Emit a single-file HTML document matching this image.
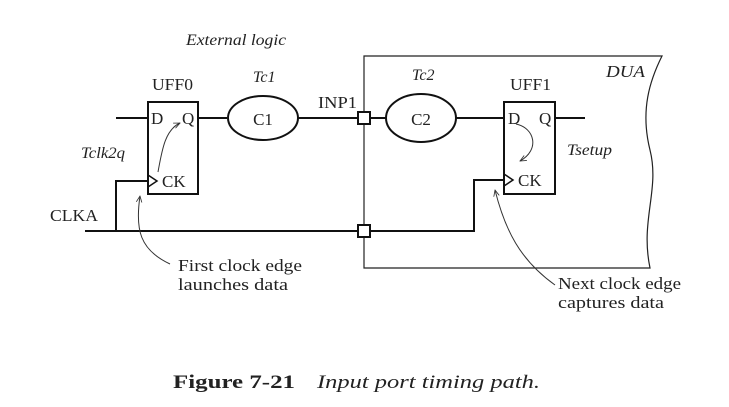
<!DOCTYPE html>
<html><head><meta charset="utf-8"><style>
body{margin:0;background:#fff}
svg{display:block}
text{font-family:"Liberation Serif",serif;fill:#222}
.i{font-style:italic}
</style></head><body>
<svg width="729" height="407" viewBox="0 0 729 407" xmlns="http://www.w3.org/2000/svg">
<defs><marker id="a" viewBox="0 0 10 10" refX="9" refY="5" markerWidth="7" markerHeight="7" orient="auto"><path d="M0,1 L9,5 L0,9" fill="none" stroke="#333" stroke-width="1.2"/></marker></defs>
<text x="186" y="45" font-size="16" class="i" textLength="100" lengthAdjust="spacingAndGlyphs">External logic</text>
<path d="M364,56 H662 C650,80 640,110 650,150 C660,190 640,220 650,268 H364 Z" fill="none" stroke="#222" stroke-width="1.2"/>
<text x="606" y="77" font-size="17" class="i" textLength="39" lengthAdjust="spacingAndGlyphs">DUA</text>
<rect x="148" y="102" width="50" height="92" fill="none" stroke="#111" stroke-width="2"/>
<text x="152" y="90" font-size="17" textLength="41" lengthAdjust="spacingAndGlyphs">UFF0</text>
<text x="151" y="124" font-size="17">D</text>
<text x="182" y="124" font-size="17">Q</text>
<text x="162" y="187" font-size="17">CK</text>
<path d="M148,175 L157,181 L148,187" fill="none" stroke="#111" stroke-width="1.5"/>
<line x1="116" y1="118" x2="148" y2="118" stroke="#111" stroke-width="2"/>
<line x1="198" y1="118" x2="227" y2="118" stroke="#111" stroke-width="2"/>
<path d="M158,172 C162,150 165,130 180,123" fill="none" stroke="#333" stroke-width="1" marker-end="url(#a)"/>
<text x="81" y="158" font-size="16" class="i" textLength="44" lengthAdjust="spacingAndGlyphs">Tclk2q</text>
<ellipse cx="263" cy="118" rx="35" ry="22" fill="none" stroke="#111" stroke-width="2"/>
<text x="263" y="125" font-size="17" text-anchor="middle">C1</text>
<text x="253" y="82" font-size="16" class="i">Tc1</text>
<line x1="298" y1="118" x2="358" y2="118" stroke="#111" stroke-width="2"/>
<text x="318" y="108" font-size="17" textLength="39" lengthAdjust="spacingAndGlyphs">INP1</text>
<rect x="358" y="112" width="12" height="12" fill="#fff" stroke="#111" stroke-width="2"/>
<line x1="370" y1="118" x2="386" y2="118" stroke="#111" stroke-width="2"/>
<ellipse cx="421" cy="118" rx="35" ry="24" fill="none" stroke="#111" stroke-width="2"/>
<text x="421" y="125" font-size="17" text-anchor="middle">C2</text>
<text x="412" y="80" font-size="16" class="i">Tc2</text>
<line x1="456" y1="118" x2="504" y2="118" stroke="#111" stroke-width="2"/>
<rect x="504" y="102" width="51" height="92" fill="none" stroke="#111" stroke-width="2"/>
<text x="510" y="90" font-size="17" textLength="41" lengthAdjust="spacingAndGlyphs">UFF1</text>
<text x="508" y="124" font-size="17">D</text>
<text x="539" y="124" font-size="17">Q</text>
<text x="518" y="186" font-size="17">CK</text>
<path d="M504,174 L513,180 L504,186" fill="none" stroke="#111" stroke-width="1.5"/>
<line x1="555" y1="118" x2="585" y2="118" stroke="#111" stroke-width="2"/>
<path d="M516,124 C535,128 540,150 520,161" fill="none" stroke="#333" stroke-width="1" marker-end="url(#a)"/>
<text x="567" y="155" font-size="16" class="i" textLength="45" lengthAdjust="spacingAndGlyphs">Tsetup</text>
<text x="50" y="221" font-size="17" textLength="48" lengthAdjust="spacingAndGlyphs">CLKA</text>
<line x1="85" y1="231" x2="358" y2="231" stroke="#111" stroke-width="2"/>
<polyline points="116,231 116,181 148,181" fill="none" stroke="#111" stroke-width="2"/>
<rect x="358" y="225" width="12" height="12" fill="#fff" stroke="#111" stroke-width="2"/>
<polyline points="370,231 474,231 474,180 504,180" fill="none" stroke="#111" stroke-width="2"/>
<path d="M170,264 C140,250 135,230 140,196" fill="none" stroke="#333" stroke-width="1" marker-end="url(#a)"/>
<text x="178" y="271" font-size="17" textLength="124" lengthAdjust="spacingAndGlyphs">First clock edge</text>
<text x="178" y="290" font-size="17" textLength="110" lengthAdjust="spacingAndGlyphs">launches data</text>
<path d="M555,285 C520,260 505,230 495,190" fill="none" stroke="#333" stroke-width="1" marker-end="url(#a)"/>
<text x="558" y="289" font-size="17" textLength="123" lengthAdjust="spacingAndGlyphs">Next clock edge</text>
<text x="558" y="308" font-size="17" textLength="106" lengthAdjust="spacingAndGlyphs">captures data</text>
<text x="173" y="388" font-size="19" font-weight="bold" textLength="122" lengthAdjust="spacingAndGlyphs">Figure 7-21</text>
<text x="317" y="388" font-size="19" class="i" textLength="223" lengthAdjust="spacingAndGlyphs">Input port timing path.</text>
</svg>
</body></html>
